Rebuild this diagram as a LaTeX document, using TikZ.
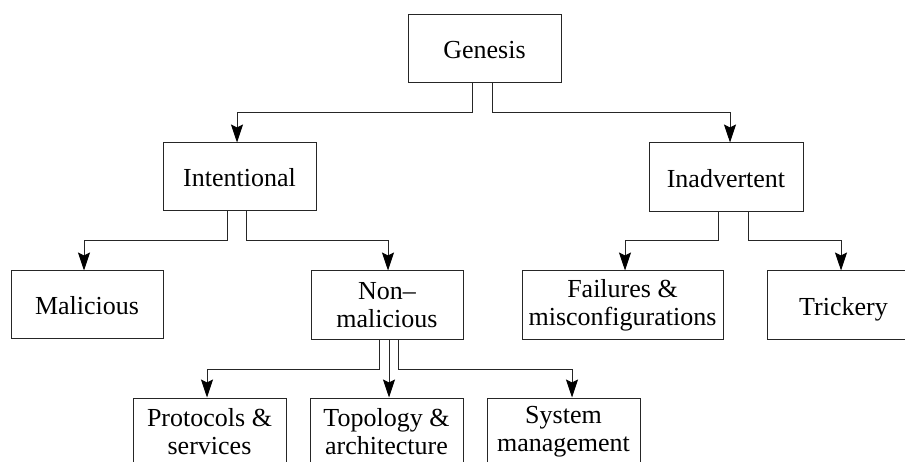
\documentclass[tikz,border=0pt]{standalone}
\usepackage{fontspec}
\setmainfont{Liberation Serif}
\usetikzlibrary{arrows.meta}
\begin{document}
\begin{tikzpicture}[x=1pt,y=-1pt,
  box/.style={draw=black!85, line width=1pt, rectangle, minimum width=153pt, minimum height=68pt,
    inner sep=0pt, align=center, font=\fontsize{26}{28}\selectfont},
  one/.style={text height=20pt, text depth=0pt},
  arr/.style={draw=black!85, line width=1pt, -{Stealth[length=18pt,width=12pt,inset=3pt,color=black]}}]
\useasboundingbox (0,0) rectangle (905,462);

\node[box,one] (genesis) at (484.5,49) {Genesis};
\node[box,one] (intentional) at (239.5,177) {Intentional};
\node[box,one, minimum width=154pt, minimum height=69pt] (inadvertent) at (726,177.5) {Inadvertent};
\node[box,one, minimum width=152pt] (malicious) at (87,305) {Malicious};
\node[box, minimum width=152pt, minimum height=69pt] (nonmal) at (387,305.5) {Non–\\malicious};
\node[box, minimum width=201pt, minimum height=69pt] (failures) at (622.5,305.5) {Failures \&\\misconfigurations};
\node[box,one, minimum height=69pt] (trickery) at (843.5,305.5) {Trickery};
\node[box] (protocols) at (209.5,432) {Protocols \&\\services};
\node[box] (topology) at (386.5,432) {Topology \&\\architecture};
\node[box] (system) at (563.5,432) {System\\management};

\coordinate (h1) at (0,113);
\coordinate (h2) at (0,241);
\coordinate (h3) at (0,369);

% Genesis
\draw[arr] ([xshift=-12pt]genesis.south) -- ([xshift=-12pt]genesis.south |- h1) -| ([xshift=-2.5pt]intentional.north);
\draw[arr] ([xshift=7.5pt]genesis.south) -- ([xshift=7.5pt]genesis.south |- h1) -| ([xshift=4pt]inadvertent.north);
% Intentional
\draw[arr] ([xshift=-12.5pt]intentional.south) -- ([xshift=-12.5pt]intentional.south |- h2) -| ([xshift=-3pt]malicious.north);
\draw[arr] ([xshift=6.5pt]intentional.south) -- ([xshift=6.5pt]intentional.south |- h2) -| ([xshift=1pt]nonmal.north);
% Inadvertent
\draw[arr] ([xshift=-8pt]inadvertent.south) -- ([xshift=-8pt]inadvertent.south |- h2) -| ([xshift=2.5pt]failures.north);
\draw[arr] ([xshift=22pt]inadvertent.south) -- ([xshift=22pt]inadvertent.south |- h2) -| ([xshift=-2.5pt]trickery.north);
% Non-malicious
\draw[arr] ([xshift=-8pt]nonmal.south) -- ([xshift=-8pt]nonmal.south |- h3) -| ([xshift=-2.5pt]protocols.north);
\draw[arr] ([xshift=2pt]nonmal.south) -- ([xshift=2pt]nonmal.south |- topology.north);
\draw[arr] ([xshift=11pt]nonmal.south) -- ([xshift=11pt]nonmal.south |- h3) -| ([xshift=8.5pt]system.north);
\end{tikzpicture}
\end{document}
